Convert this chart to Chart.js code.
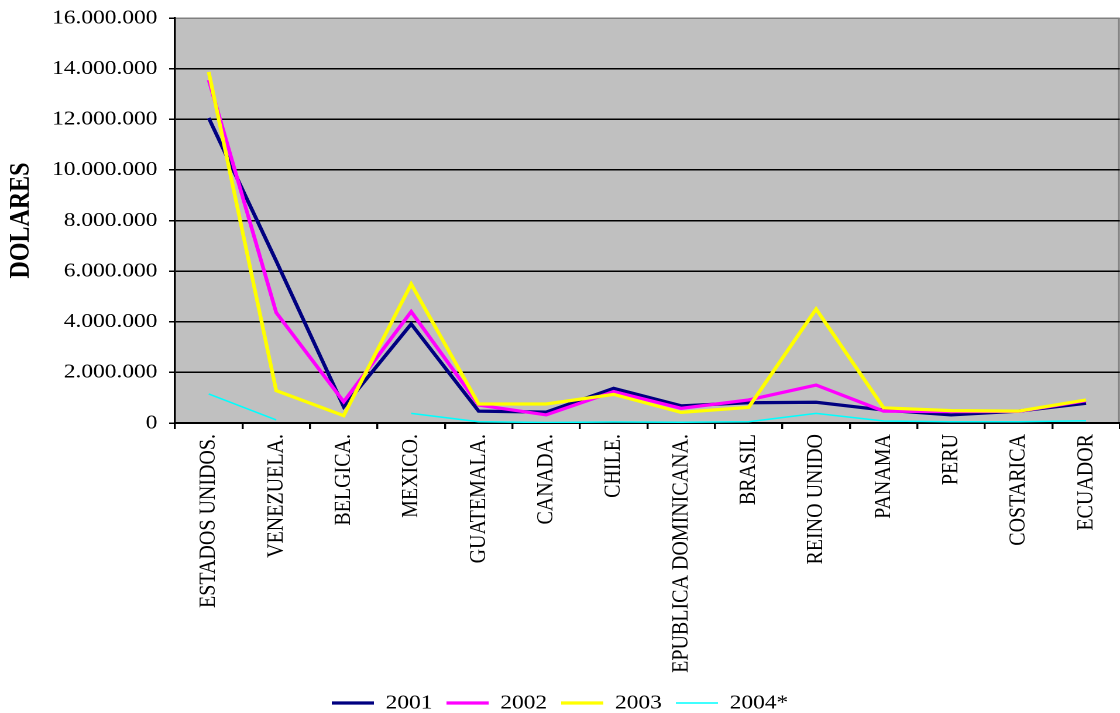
<!DOCTYPE html>
<html>
<head>
<meta charset="utf-8">
<title>Exportaciones por país</title>
<script src="https://cdn.jsdelivr.net/npm/chart.js@4.4.1/dist/chart.umd.min.js"></script>
<style>
  html, body { margin: 0; padding: 0; background: #ffffff; overflow: hidden; }
  /* the chart is laid out on a narrower canvas and widened to the full page */
  #wrap { width: 957px; height: 713px; transform-origin: 0 0; }
  #c { display: block; }
  .precarga { position: absolute; left: -9999px; top: 0; font-family: 'Liberation Serif'; }
</style>
</head>
<body>
<span class="precarga">0 <b>D</b></span>
<div id="wrap"><canvas id="c" width="957" height="713"></canvas></div>
<script>
// Countries on the x axis
const paises = [
  'ESTADOS UNIDOS.', 'VENEZUELA.', 'BELGICA.', 'MEXICO.', 'GUATEMALA.',
  'CANADA.', 'CHILE.', 'EPUBLICA DOMINICANA.', 'BRASIL', 'REINO UNIDO',
  'PANAMA', 'PERU', 'COSTARICA', 'ECUADOR'
];

// Yearly values in dollars
const serie2001 = [12050000, 6400000, 640000, 3910000, 470000, 430000, 1370000, 680000, 800000, 820000, 510000, 320000, 470000, 780000];
const serie2002 = [13550000, 4360000, 840000, 4400000, 710000, 320000, 1240000, 580000, 910000, 1500000, 470000, 450000, 460000, 880000];
const serie2003 = [13870000, 1280000, 290000, 5490000, 750000, 750000, 1130000, 420000, 620000, 4500000, 600000, 490000, 470000, 910000];
const serie2004 = [1150000, 120000, null, 380000, 50000, 20000, 40000, 30000, 50000, 380000, 80000, 50000, 50000, 90000];

const anios = ['2001', '2002', '2003', '2004*'];

// Y axis range
const yMin = 0;
const yMax = 16000000;
const yPaso = 2000000;

const PAGE_W = 1120;
const CANVAS_W = 957;
document.getElementById('wrap').style.transform = 'scaleX(' + (PAGE_W / CANVAS_W) + ')';

const FONT = "'Liberation Serif', 'Times New Roman', serif";

function miles(v) {
  return String(v).replace(/\B(?=(\d{3})+(?!\d))/g, '.');
}

// grey plot background with a dark grey frame on the right
const fondoGris = {
  id: 'fondoGris',
  beforeDraw(chart) {
    const { ctx, chartArea: a } = chart;
    ctx.save();
    ctx.fillStyle = '#C0C0C0';
    ctx.fillRect(a.left, a.top, a.right - a.left, a.bottom - a.top);
    ctx.strokeStyle = '#808080';
    ctx.lineWidth = 1.5;
    ctx.beginPath();
    ctx.moveTo(a.right - 0.75, a.top);
    ctx.lineTo(a.right - 0.75, a.bottom);
    ctx.stroke();
    ctx.restore();
  }
};

const estilo = [
  { color: '#000080', ancho: 3.2, orden: 3 },
  { color: '#FF00FF', ancho: 3.2, orden: 2 },
  { color: '#FFFF00', ancho: 3.2, orden: 1 },
  { color: '#00FFFF', ancho: 1.5, orden: 0 }
];
const series = [serie2001, serie2002, serie2003, serie2004];

const datasets = series.map((d, i) => ({
  label: anios[i],
  data: d,
  borderColor: estilo[i].color,
  backgroundColor: estilo[i].color,
  borderWidth: estilo[i].ancho,
  pointRadius: 0,
  pointHoverRadius: 0,
  tension: 0,
  spanGaps: false,
  order: estilo[i].orden
}));

function dibujar() {
  new Chart(document.getElementById('c'), {
    type: 'line',
    data: { labels: paises, datasets },
    plugins: [fondoGris],
    options: {
      responsive: false,
      devicePixelRatio: 2,
      animation: false,
      events: [],
      layout: { padding: { top: 18, right: 0, bottom: 0, left: 0 } },
      plugins: {
        tooltip: { enabled: false },
        legend: {
          position: 'bottom',
          maxHeight: 32,
          labels: {
            usePointStyle: true,
            pointStyle: 'line',
            pointStyleWidth: 36,
            boxHeight: 20,
            padding: 12,
            color: '#000',
            font: { family: FONT, size: 20 },
            sort: (a, b) => a.datasetIndex - b.datasetIndex
          }
        }
      },
      scales: {
        x: {
          type: 'category',
          offset: true,
          grid: {
            offset: true,
            drawOnChartArea: false,
            drawTicks: true,
            tickLength: 6,
            color: '#000',
            lineWidth: 1.7
          },
          border: { display: true, color: '#000', width: 2 },
          ticks: {
            autoSkip: false,
            maxRotation: 90,
            minRotation: 90,
            padding: 5,
            color: '#000',
            font: { family: FONT, size: 20 }
          },
          afterFit(scale) {
            scale.height = 258;
            scale.paddingTop = 0;
            scale.paddingBottom = 0;
          }
        },
        y: {
          min: yMin,
          max: yMax,
          ticks: {
            stepSize: yPaso,
            padding: 10,
            color: '#000',
            font: { family: FONT, size: 20 },
            callback: v => miles(v)
          },
          grid: {
            color: c => (c.tick && c.tick.value === yMax) ? '#808080' : '#000',
            lineWidth: 1.5,
            tickLength: 5,
            tickColor: '#000'
          },
          border: { display: true, color: '#000', width: 1.7 },
          title: {
            display: true,
            text: 'DOLARES',
            color: '#000',
            font: { family: FONT, size: 24, weight: 'bold' },
            padding: { top: 4, bottom: 0 }
          },
          afterFit(scale) {
            scale.width = 149.5;
            scale.paddingTop = 0;
            scale.paddingBottom = 0;
          }
        }
      }
    }
  });
}

const cargas = [
  document.fonts.load("20px 'Liberation Serif'"),
  document.fonts.load("bold 24px 'Liberation Serif'")
];
Promise.all(cargas).then(dibujar, dibujar);
</script>
</body>
</html>
